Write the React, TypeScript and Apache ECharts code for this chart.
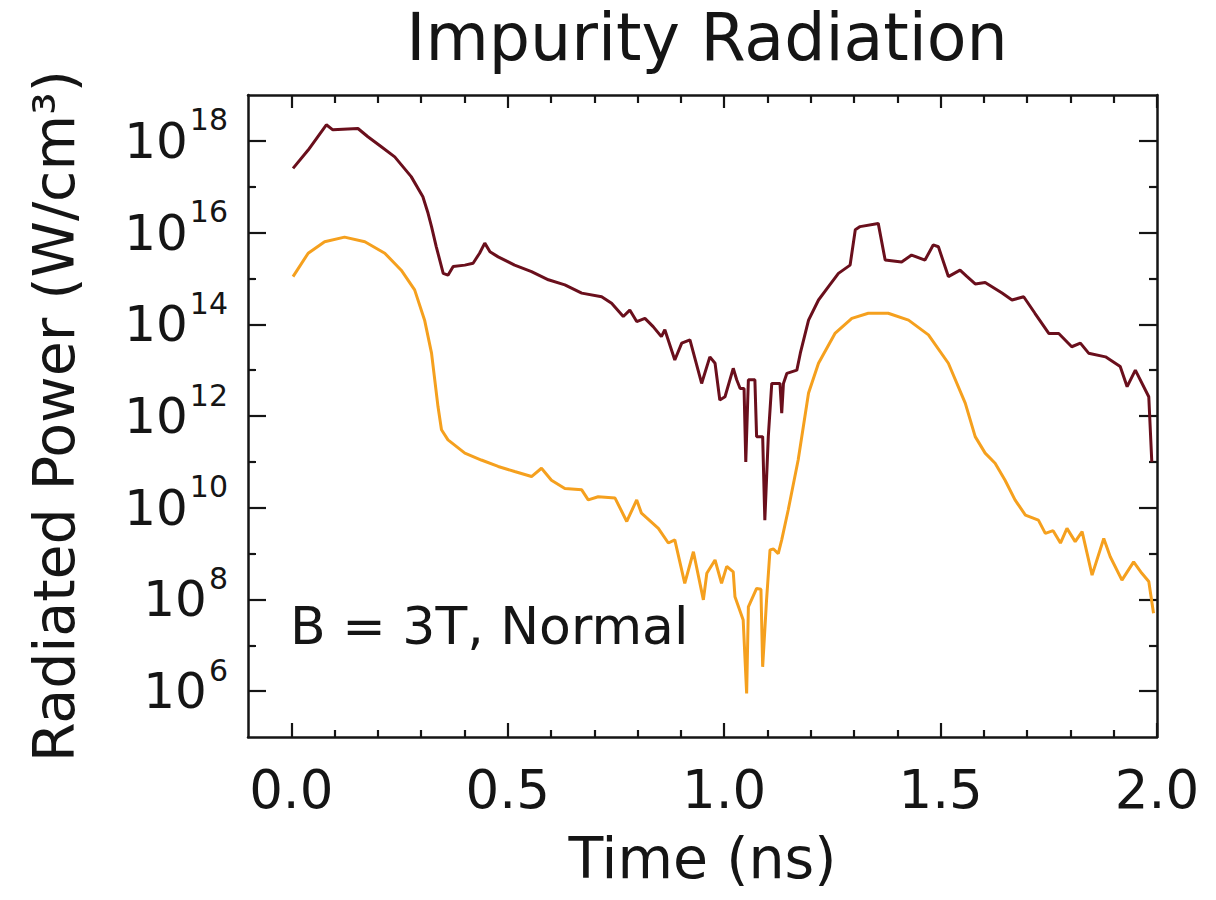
import React, { useEffect, useRef } from "react";
import * as echarts from "echarts";

// Time (ns) and log10 of radiated power (W/cm^3) for each curve
const darkTime = [
  0.004, 0.039, 0.081, 0.096, 0.154, 0.177, 0.208, 0.239, 0.277, 0.304, 0.316, 0.324, 0.335, 0.351, 0.362,
  0.374, 0.401, 0.42, 0.435, 0.447, 0.459, 0.478, 0.516, 0.555, 0.594, 0.632, 0.671, 0.717, 0.74, 0.767,
  0.782, 0.798, 0.817, 0.836, 0.855, 0.863, 0.886, 0.902, 0.921, 0.948, 0.967, 0.979, 0.99, 1.002, 1.021,
  1.029, 1.037, 1.046, 1.05, 1.056, 1.071, 1.075, 1.089, 1.094, 1.102, 1.11, 1.129, 1.133, 1.137, 1.145,
  1.168, 1.176, 1.195, 1.218, 1.241, 1.264, 1.291, 1.303, 1.314, 1.356, 1.372, 1.41, 1.433, 1.464, 1.483,
  1.495, 1.518, 1.545, 1.56, 1.58, 1.603, 1.642, 1.665, 1.692, 1.718, 1.75, 1.773, 1.803, 1.823, 1.842,
  1.881, 1.915, 1.931, 1.95, 1.981, 1.988,
];
const darkLog10 = [
  17.4, 17.8, 18.35, 18.24, 18.27, 18.09, 17.87, 17.65, 17.22, 16.78, 16.42, 16.13, 15.69, 15.11, 15.07,
  15.26, 15.29, 15.33, 15.55, 15.77, 15.58, 15.47, 15.29, 15.15, 14.97, 14.86, 14.68, 14.6, 14.46, 14.17,
  14.31, 14.06, 14.13, 13.95, 13.73, 13.88, 13.22, 13.59, 13.66, 12.71, 13.29, 13.15, 12.35, 12.42, 13.04,
  12.79, 12.6, 12.6, 11.0, 12.79, 12.79, 11.55, 11.55, 9.73, 11.55, 12.71, 12.71, 12.06, 12.71, 12.93,
  13.0, 13.37, 14.09, 14.53, 14.82, 15.11, 15.29, 16.06, 16.13, 16.2, 15.4, 15.36, 15.51, 15.4, 15.73,
  15.69, 15.04, 15.18, 15.05, 14.88, 14.91, 14.68, 14.53, 14.6, 14.24, 13.8, 13.8, 13.51, 13.59, 13.37,
  13.29, 13.08, 12.64, 13.0, 12.42, 11.0,
];
const orangeTime = [
  0.004, 0.039, 0.077, 0.123, 0.17, 0.216, 0.254, 0.285, 0.308, 0.324, 0.339, 0.347, 0.362, 0.401, 0.439,
  0.478, 0.516, 0.555, 0.578, 0.601, 0.632, 0.671, 0.686, 0.709, 0.748, 0.775, 0.798, 0.809, 0.848, 0.871,
  0.886, 0.909, 0.929, 0.952, 0.96, 0.979, 0.994, 1.006, 1.021, 1.025, 1.044, 1.052, 1.056, 1.075, 1.085,
  1.089, 1.098, 1.106, 1.114, 1.125, 1.133, 1.148, 1.171, 1.195, 1.218, 1.256, 1.295, 1.333, 1.379, 1.426,
  1.472, 1.518, 1.557, 1.58, 1.603, 1.626, 1.649, 1.672, 1.696, 1.726, 1.742, 1.76, 1.777, 1.792, 1.811,
  1.827, 1.85, 1.877, 1.892, 1.919, 1.946, 1.965, 1.981, 1.992,
];
const orangeLog10 = [
  15.04, 15.55, 15.8, 15.9, 15.8, 15.55, 15.18, 14.75, 14.09, 13.37, 12.2, 11.7, 11.48, 11.19, 11.04,
  10.9, 10.79, 10.68, 10.86, 10.6, 10.42, 10.39, 10.17, 10.24, 10.21, 9.7, 10.17, 9.88, 9.55, 9.23,
  9.3, 8.35, 9.04, 7.99, 8.57, 8.86, 8.35, 8.72, 8.6, 8.06, 7.55, 5.95, 7.84, 8.24, 8.22,
  6.53, 7.99, 9.08, 9.1, 9.0, 9.3, 9.95, 11.04, 12.5, 13.15, 13.8, 14.13, 14.24, 14.24, 14.09,
  13.77, 13.15, 12.28, 11.55, 11.19, 10.97, 10.6, 10.17, 9.84, 9.73, 9.44, 9.5, 9.23, 9.55, 9.26,
  9.48, 8.53, 9.33, 8.93, 8.42, 8.82, 8.57, 8.39, 7.7,
];

const xMajorTicks = [0, 0.5, 1.0, 1.5, 2.0];
const xMinorTicks = [0.1, 0.2, 0.3, 0.4, 0.6, 0.7, 0.8, 0.9, 1.1, 1.2, 1.3, 1.4, 1.6, 1.7, 1.8, 1.9];
const yMajorExponents = [6, 8, 10, 12, 14, 16, 18];
const yMinorExponents = [7, 9, 11, 13, 15, 17];

const titleText = "Impurity Radiation";
const xName = "Time (ns)";
const yName = "Radiated Power (W/cm³)";
const noteText = "B = 3T, Normal";

const FONT = "DejaVu Sans";
const INK = "#151515";

export default function App() {
  const ref = useRef<HTMLDivElement>(null);

  useEffect(() => {
    if (!ref.current) return;
    const chart = echarts.init(ref.current, null, { renderer: "svg" });

    const axisLine = { show: true, onZero: false, lineStyle: { color: INK, width: 2.5 } };
    const noLine = { show: false, onZero: false };
    const xBase = { type: "value", min: -0.1, max: 2.0, splitLine: { show: false } };
    const yBase = { type: "value", min: 5, max: 19, splitLine: { show: false } };

    const tick = (vals: number[], len: number) => ({
      show: true,
      inside: true,
      length: len,
      customValues: vals,
      lineStyle: { color: INK, width: 2.2 },
    });

    const option: any = {
      animation: false,
      backgroundColor: "#ffffff",
      title: {
        text: titleText,
        left: 702,
        top: 0,
        textAlign: "center",
        textStyle: { fontFamily: FONT, fontSize: 65, fontWeight: "normal", color: INK },
      },
      grid: { left: 248, right: 59, top: 95, bottom: 163, containLabel: false, outerBoundsMode: "none" },
      xAxis: [
        {
          ...xBase,
          position: "bottom",
          axisLine,
          axisTick: tick(xMajorTicks, 14),
          axisLabel: {
            customValues: xMajorTicks,
            formatter: (v: number) => v.toFixed(1),
            fontFamily: FONT,
            fontSize: 53,
            color: INK,
            margin: 26,
          },
          name: xName,
          nameLocation: "middle",
          nameGap: 92,
          nameTextStyle: { fontFamily: FONT, fontSize: 57, color: INK },
        },
        { ...xBase, position: "bottom", axisLine: noLine, axisTick: tick(xMinorTicks, 7), axisLabel: { show: false } },
        { ...xBase, position: "top", axisLine, axisTick: tick(xMajorTicks, 13), axisLabel: { show: false } },
        { ...xBase, position: "top", axisLine: noLine, axisTick: tick(xMinorTicks, 8), axisLabel: { show: false } },
      ],
      yAxis: [
        {
          ...yBase,
          position: "left",
          axisLine,
          axisTick: tick(yMajorExponents, 18),
          axisLabel: {
            customValues: yMajorExponents,
            formatter: (v: number) => `{b|10}{s|${v}}`,
            margin: 20,
            rich: {
              b: { fontFamily: FONT, fontSize: 50, color: INK, lineHeight: 72 },
              s: { fontFamily: FONT, fontSize: 30, color: INK, lineHeight: 32, verticalAlign: "top", padding: [0, 0, 0, 2] },
            },
          },
          name: yName,
          nameLocation: "middle",
          nameGap: 166,
          nameRotate: 90,
          nameTextStyle: { fontFamily: FONT, fontSize: 57, color: INK },
        },
        { ...yBase, position: "left", axisLine: noLine, axisTick: tick(yMinorExponents, 8), axisLabel: { show: false } },
        { ...yBase, position: "right", axisLine, axisTick: tick(yMajorExponents, 18), axisLabel: { show: false } },
        { ...yBase, position: "right", axisLine: noLine, axisTick: tick(yMinorExponents, 8), axisLabel: { show: false } },
      ],
      graphic: [
        {
          type: "text",
          style: {
            text: noteText,
            x: 290,
            y: 626,
            align: "left",
            verticalAlign: "middle",
            font: `52px '${FONT}'`,
            fill: INK,
          },
        },
      ],
      series: [
        {
          name: "dark",
          type: "line",
          xAxisIndex: 0,
          yAxisIndex: 0,
          showSymbol: false,
          data: darkTime.map((t, i) => [t, darkLog10[i]]),
          lineStyle: { color: "#6a0f1c", width: 3 },
          z: 3,
        },
        {
          name: "orange",
          type: "line",
          xAxisIndex: 0,
          yAxisIndex: 0,
          showSymbol: false,
          data: orangeTime.map((t, i) => [t, orangeLog10[i]]),
          lineStyle: { color: "#f5a01e", width: 3 },
          z: 2,
        },
      ],
    };

    chart.setOption(option);
    return () => chart.dispose();
  }, []);

  return <div ref={ref} style={{ width: 1216, height: 900, margin: -8 }} />;
}
